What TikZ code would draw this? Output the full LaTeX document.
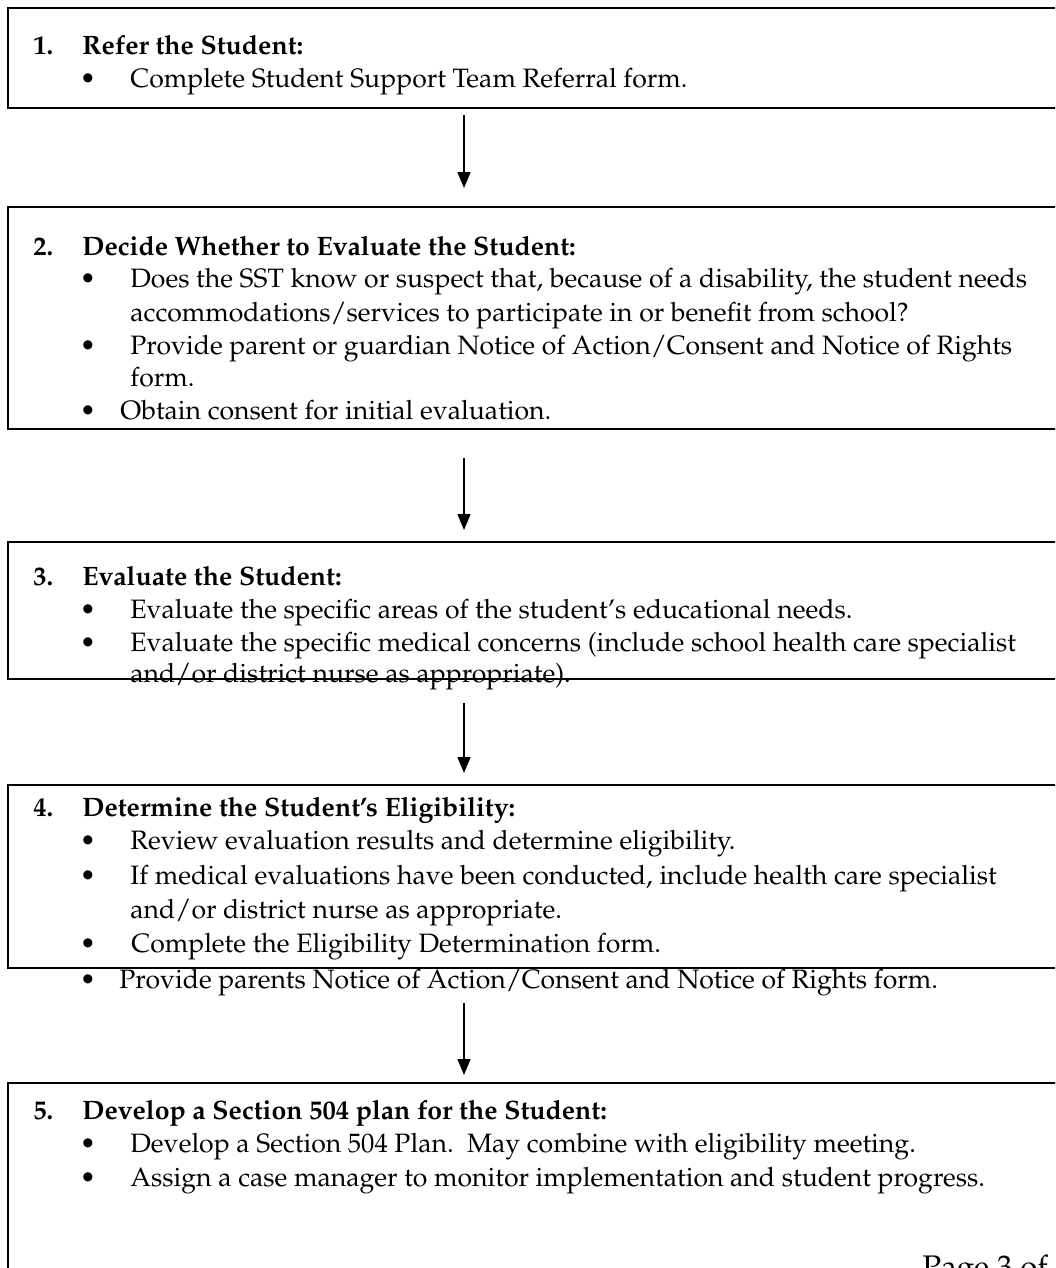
\documentclass[tikz,border=0pt]{standalone}
\usepackage[T1]{fontenc}
\usepackage{mathpazo}
\usepackage{tikz}
\usetikzlibrary{arrows.meta, calc, positioning}

\begin{document}
\begin{tikzpicture}[
            x=0.5pt, y=-0.5pt,
            >=Stealth,
            box/.style={draw, line width=1pt, rectangle, anchor=north west, inner sep=0pt, outer sep=0pt, minimum width=533.5pt},
            num/.style={anchor=base west, inner sep=0pt, font=\fontsize{13.3}{16}\selectfont\bfseries},
            head/.style={anchor=base west, inner sep=0pt, font=\fontsize{13.3}{16}\selectfont\bfseries},
            dot/.style={anchor=base, inner sep=0pt, font=\fontsize{13.3}{16}\selectfont},
            item/.style={anchor=base west, inner sep=0pt, font=\fontsize{13.3}{16}\selectfont},
            flow/.style={line width=0.75pt, -{Triangle[length=8pt, width=6.5pt]}}
        ]

        \useasboundingbox (0,0) rectangle (1055,1268);
        \clip (0,0) rectangle (1055,1268);

        % Riquadri
        \node[box, minimum height=50pt] (s1) at (8,8) {};
        \node[box, minimum height=111pt] (s2) at (8,207) {};
        \node[box, minimum height=68.5pt] (s3) at (8,542) {};
        \node[box, minimum height=91.5pt] (s4) at (8,785) {};
        \node[box, minimum height=105pt] (s5) at (8,1083) {};

        % Passo 1
        \node[num] (n1) at (33,55) {1.};
        \node[head] (h1) at (82,55) {Refer the Student:};
        \node[dot] (d11) at (88,88) {\textbullet};
        \node[item] (t11) at (130,88) {Complete Student Support Team Referral form.};

        % Passo 2
        \node[num] (n2) at (33,255) {2.};
        \node[head] (h2) at (82,255) {Decide Whether to Evaluate the Student:};
        \node[dot] (d21) at (88,287) {\textbullet};
        \node[item] (t21) at (130,287) {Does the SST know or suspect that, because of a disability, the student needs};
        \node[item] (t21b) at (130,321) {accommodations/services to participate in or benefit from school?};
        \node[dot] (d22) at (88,354) {\textbullet};
        \node[item] (t22) at (130,354) {Provide parent or guardian Notice of Action/Consent and Notice of Rights};
        \node[item] (t22b) at (130,386) {form.};
        \node[dot] (d23) at (88,419) {\textbullet};
        \node[item] (t23) at (120,419) {Obtain consent for initial evaluation.};

        % Passo 3
        \node[num] (n3) at (33,585) {3.};
        \node[head] (h3) at (82,585) {Evaluate the Student:};
        \node[dot] (d31) at (88,618) {\textbullet};
        \node[item] (t31) at (130,618) {Evaluate the specific areas of the student's educational needs.};
        \node[dot] (d32) at (88,651) {\textbullet};
        \node[item] (t32) at (130,651) {Evaluate the specific medical concerns (include school health care specialist};
        \node[item] (t32b) at (130,682) {and/or district nurse as appropriate).};

        % Passo 4
        \node[num] (n4) at (33,816) {4.};
        \node[head] (h4) at (82,816) {Determine the Student's Eligibility:};
        \node[dot] (d41) at (88,849) {\textbullet};
        \node[item] (t41) at (130,849) {Review evaluation results and determine eligibility.};
        \node[dot] (d42) at (88,884) {\textbullet};
        \node[item] (t42) at (130,884) {If medical evaluations have been conducted, include health care specialist};
        \node[item] (t42b) at (130,918) {and/or district nurse as appropriate.};
        \node[dot] (d43) at (88,952) {\textbullet};
        \node[item] (t43) at (131,952) {Complete the Eligibility Determination form.};
        \node[dot] (d44) at (88,988) {\textbullet};
        \node[item] (t44) at (119,988) {Provide parents Notice of Action/Consent and Notice of Rights form.};

        % Passo 5
        \node[num] (n5) at (33,1119) {5.};
        \node[head] (h5) at (82,1119) {Develop a Section 504 plan for the Student:};
        \node[dot] (d51) at (88,1152) {\textbullet};
        \node[item] (t51) at (130,1152) {Develop a Section 504 Plan.\ \ May combine with eligibility meeting.};
        \node[dot] (d52) at (88,1186) {\textbullet};
        \node[item] (t52) at (130,1186) {Assign a case manager to monitor implementation and student progress.};

        % Numero di pagina
        \node[anchor=base west, inner sep=0pt, font=\fontsize{15.6}{18}\selectfont] (pg) at (922,1277) {Page 3 of};

        % Frecce tra i passi
        \draw[flow] ($(s1.south west)+(456,7)$) -- ($(s2.north west)+(456,-19)$);
        \draw[flow] ($(s2.south west)+(456,29)$) -- ($(s3.north west)+(456,-12)$);
        \draw[flow] ($(s3.south west)+(456,24)$) -- ($(s4.north west)+(456,-12)$);
        \draw[flow] ($(s4.south west)+(456,35)$) -- ($(s5.north west)+(456,-8)$);

        \end{tikzpicture}
\end{document}
